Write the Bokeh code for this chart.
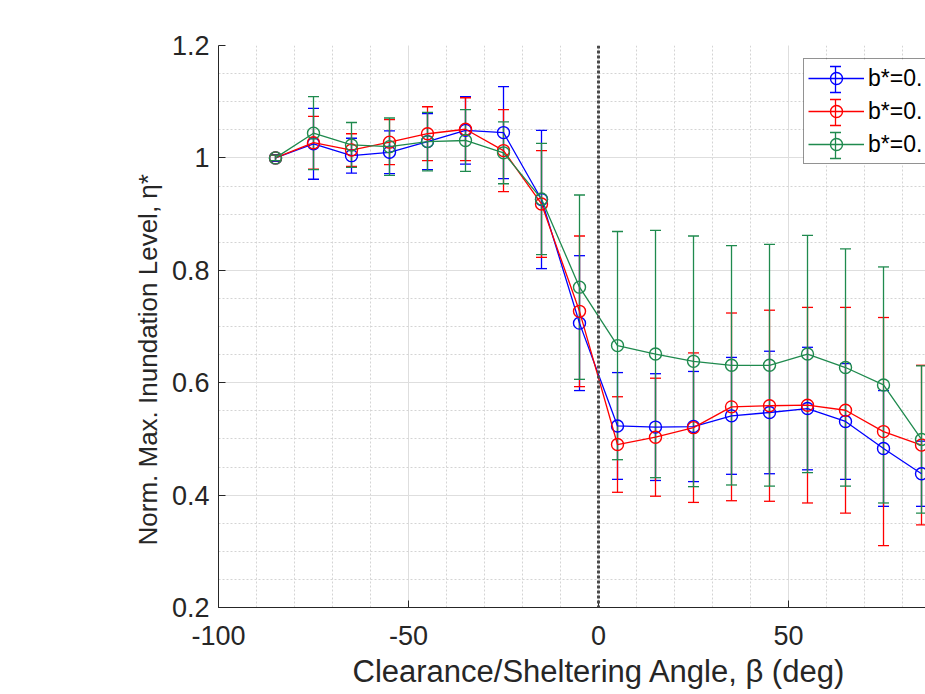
from bokeh.plotting import figure
from bokeh.models import (ColumnDataSource, Whisker, TeeHead, Legend, LegendItem,
                          FixedTicker, Span, Range1d, Title, CustomJSTickFormatter)
from bokeh.embed import file_html
from bokeh.resources import INLINE

# Clearance / sheltering angle (deg)
angle = [-85, -75, -65, -55, -45, -35, -25, -15, -5, 5, 15, 25, 35, 45, 55, 65, 75, 85]

# Normalised max. inundation level and its error half-width, one pair per b*
eta_b1 = [1.000, 1.025, 1.004, 1.010, 1.029, 1.049, 1.045, 0.926, 0.706, 0.523,
          0.521, 0.522, 0.541, 0.547, 0.554, 0.531, 0.483, 0.438]
err_b1 = [0.006, 0.063, 0.031, 0.038, 0.050, 0.060, 0.082, 0.123, 0.120, 0.095,
          0.095, 0.098, 0.104, 0.109, 0.109, 0.103, 0.103, 0.058]

eta_b2 = [1.000, 1.027, 1.014, 1.028, 1.043, 1.051, 1.013, 0.918, 0.727, 0.490,
          0.503, 0.520, 0.557, 0.559, 0.560, 0.551, 0.513, 0.489]
err_b2 = [0.005, 0.047, 0.029, 0.040, 0.048, 0.056, 0.073, 0.095, 0.134, 0.085,
          0.105, 0.133, 0.167, 0.170, 0.174, 0.183, 0.203, 0.142]

eta_b3 = [1.000, 1.044, 1.023, 1.020, 1.029, 1.031, 1.009, 0.927, 0.770, 0.666,
          0.651, 0.638, 0.631, 0.631, 0.651, 0.627, 0.596, 0.499]
err_b3 = [0.005, 0.065, 0.040, 0.051, 0.052, 0.055, 0.055, 0.099, 0.164, 0.203,
          0.220, 0.223, 0.213, 0.215, 0.211, 0.211, 0.210, 0.131]

series_labels = ["b*=0.", "b*=0.", "b*=0."]
series_colors = ["#0000ff", "#ff0000", "#1f8a4e"]

x_ticks = [-100, -50, 0, 50, 100]
x_minor = list(range(-100, 101, 10))
y_ticks = [0.2, 0.4, 0.6, 0.8, 1.0, 1.2]
y_minor = [round(0.2 + 0.05 * i, 2) for i in range(21)]

x_title = "Clearance/Sheltering Angle, β (deg)"
y_title = "Norm. Max. Inundation Level, η*"

FONT = "Liberation Sans"
INK = "#262626"

# canvas / frame geometry (pixels)
W, H = 925, 694
LEFT, TOP, BOTTOM = 218, 45, 87
X0, X1 = -100, 86.05
Y0, Y1 = 0.2, 1.2
frame_w = W - LEFT
frame_h = H - TOP - BOTTOM

p = figure(width=W, height=H, output_backend="svg", toolbar_location=None,
           x_range=Range1d(X0, X1), y_range=Range1d(Y0, Y1),
           min_border_left=LEFT, min_border_right=0, min_border_top=TOP,
           min_border_bottom=BOTTOM)
p.outline_line_color = None
p.background_fill_color = "white"
p.border_fill_color = "white"

fmt = CustomJSTickFormatter(code="return String(tick);")
for ax, ticks, minor in ((p.xaxis[0], x_ticks, x_minor), (p.yaxis[0], y_ticks, y_minor)):
    ax.ticker = FixedTicker(ticks=ticks, minor_ticks=minor)
    ax.formatter = fmt
    ax.major_tick_in = 7
    ax.major_tick_out = 0
    ax.minor_tick_in = 0
    ax.minor_tick_out = 0
    ax.axis_line_color = INK
    ax.major_tick_line_color = INK
    ax.major_label_text_font = FONT
    ax.major_label_text_font_size = "27px"
    ax.major_label_text_color = INK
p.xaxis.major_label_standoff = 18
p.yaxis.major_label_standoff = 9

for g in (p.xgrid[0], p.ygrid[0]):
    g.grid_line_color = "#dedede"
    g.grid_line_width = 1
    g.minor_grid_line_color = "#d4d4d4"
    g.minor_grid_line_dash = "2 2"
    g.minor_grid_line_width = 1

# zero-angle reference line
p.add_layout(Span(location=0, dimension="height", line_color="#4a4a4a",
                  line_width=3, line_dash="3 2"))

items = []
for eta, err, col, lab in zip((eta_b1, eta_b2, eta_b3), (err_b1, err_b2, err_b3),
                              series_colors, series_labels):
    src = ColumnDataSource(dict(
        x=angle, y=eta,
        upper=[m + e for m, e in zip(eta, err)],
        lower=[m - e for m, e in zip(eta, err)]))
    w = Whisker(source=src, base="x", upper="upper", lower="lower",
                line_color=col, line_width=1.3,
                upper_head=TeeHead(size=11, line_color=col, line_width=1.3),
                lower_head=TeeHead(size=11, line_color=col, line_width=1.3))
    p.add_layout(w)
    rl = p.line("x", "y", source=src, line_color=col, line_width=1.3)
    rc = p.scatter("x", "y", source=src, marker="circle", size=12,
                   fill_color=None, line_color=col, line_width=1.4)
    items.append(LegendItem(label=lab, renderers=[rl, rc]))

# ---- legend -------------------------------------------------------------
# box position: left edge relative to the frame, top edge from the canvas top
LEG_LEFT, LEG_TOP = 585, 60
GLYPH_W, ROW_H, SPACING, PAD = 56, 30, 3, 4
LABEL_W = 70
leg_height = 2 * PAD + 3 * ROW_H + 2 * SPACING

px_to_x = lambda px: X0 + (px - LEFT) / frame_w * (X1 - X0)
py_to_y = lambda py: Y0 + (H - BOTTOM - py) / frame_h * (Y1 - Y0)

# opaque backing for the legend, so the key error bars can sit on top of it
p.quad(left=[px_to_x(LEFT + LEG_LEFT)], right=[px_to_x(LEFT + LEG_LEFT + GLYPH_W + LABEL_W + 2 * PAD)],
       top=[py_to_y(LEG_TOP)], bottom=[py_to_y(LEG_TOP + leg_height)],
       fill_color="white", line_color=None)

# vertical error-bar symbol on each legend key
key_px = LEFT + LEG_LEFT + PAD + GLYPH_W / 2
cap = 5.5 * (X1 - X0) / frame_w
half = 13
for i, col in enumerate(series_colors):
    py = LEG_TOP + PAD + ROW_H / 2 + i * (ROW_H + SPACING)
    xk, yt, yb = px_to_x(key_px), py_to_y(py - half), py_to_y(py + half)
    p.segment(x0=[xk, xk - cap, xk - cap], x1=[xk, xk + cap, xk + cap],
              y0=[yb, yt, yb], y1=[yt, yt, yb], line_color=col, line_width=1.3)

legend = Legend(items=items, location=(LEG_LEFT, frame_h - (LEG_TOP - TOP) - leg_height),
                glyph_width=GLYPH_W, glyph_height=ROW_H, label_height=ROW_H,
                spacing=SPACING, padding=PAD, label_standoff=4,
                border_line_color=INK, border_line_width=1,
                background_fill_alpha=0,
                label_text_font=FONT, label_text_font_size="23px",
                label_text_color="black")
p.add_layout(legend)

# axis titles
p.add_layout(Title(text=x_title, align="left", offset=134, standoff=9,
                   text_line_height=0.9,
                   text_font=FONT, text_font_size="31px", text_font_style="normal",
                   text_color=INK), "below")
p.add_layout(Title(text=y_title, align="left", offset=62, standoff=12,
                   text_font=FONT, text_font_size="26px", text_font_style="normal",
                   text_color=INK), "left")

open("out.html", "w").write(file_html(p, INLINE))
